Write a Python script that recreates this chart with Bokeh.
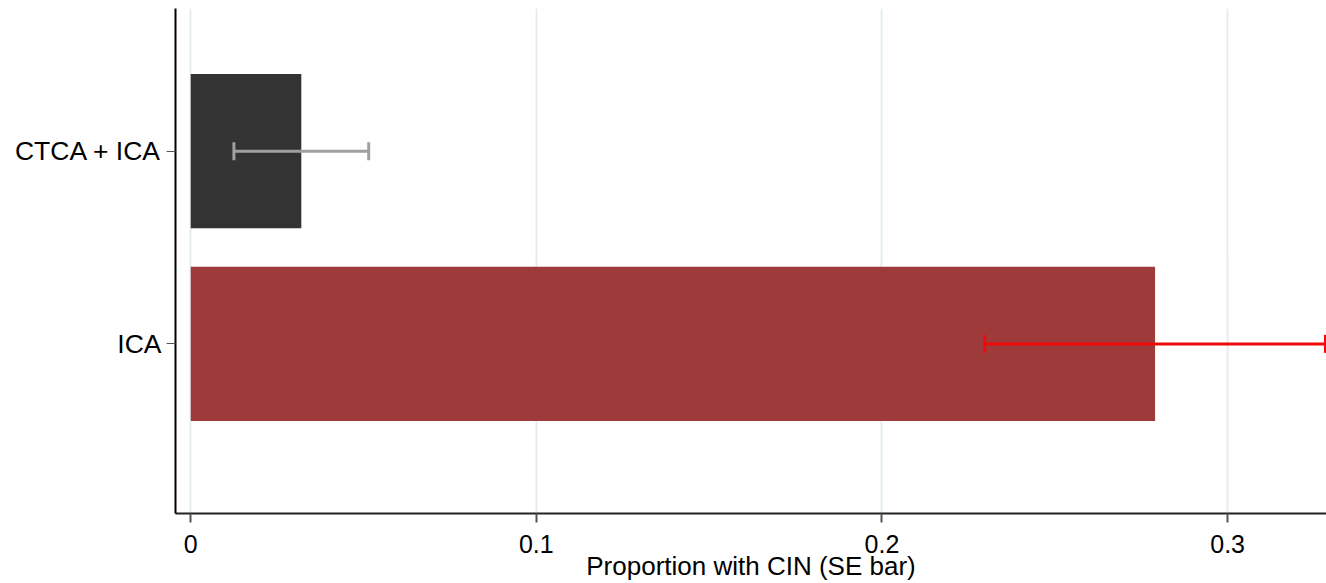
from bokeh.plotting import figure
from bokeh.models import Range1d, FixedTicker, Whisker, TeeHead, ColumnDataSource
from bokeh.embed import file_html
from bokeh.resources import INLINE

# Data (bottom to top)
categories = ["ICA", "CTCA + ICA"]
proportions = [0.279, 0.032]
std_errors = [0.0493, 0.0195]
bar_colors = ["#9E3A3A", "#333333"]
err_colors = ["#F00A0A", "#A0A0A0"]
x_ticks = [0, 0.1, 0.2, 0.3]

ypos = list(range(len(categories)))
lower = [m - s for m, s in zip(proportions, std_errors)]
upper = [m + s for m, s in zip(proportions, std_errors)]

FONT = "Liberation Sans"

p = figure(width=1326, height=583, output_backend="svg", toolbar_location=None,
           x_range=Range1d(-0.0044, max(upper) + 0.0003), y_range=Range1d(-0.88, 1.74),
           min_border_left=175, min_border_right=0, min_border_top=8, min_border_bottom=69)
p.outline_line_color = None
p.background_fill_color = "white"
p.border_fill_color = "white"

src = ColumnDataSource(dict(y=ypos, right=proportions, color=bar_colors))
p.hbar(y="y", left=0, right="right", height=0.8, fill_color="color", line_color=None, source=src)

for i in range(len(categories)):
    s = ColumnDataSource(dict(base=[ypos[i]], lower=[lower[i]], upper=[upper[i]]))
    w = Whisker(source=s, base="base", lower="lower", upper="upper", dimension="width",
                level="overlay", line_color=err_colors[i], line_width=3,
                lower_head=TeeHead(size=18, line_color=err_colors[i], line_width=3),
                upper_head=TeeHead(size=18, line_color=err_colors[i], line_width=3))
    p.add_layout(w)

# Grid
p.ygrid.grid_line_color = None
p.xgrid.grid_line_color = "#E4EEF0"
p.xgrid.grid_line_width = 2
p.xgrid.ticker = FixedTicker(ticks=x_ticks)

# X axis
p.xaxis.ticker = FixedTicker(ticks=x_ticks)
p.xaxis.major_label_overrides = {0: "0", 0.1: "0.1", 0.2: "0.2", 0.3: "0.3"}
p.xaxis.axis_label = "Proportion with CIN (SE bar)"
p.xaxis.axis_label_text_font = FONT
p.xaxis.axis_label_text_font_size = "26px"
p.xaxis.axis_label_text_font_style = "normal"
p.xaxis.axis_label_text_color = "black"
p.xaxis.axis_label_standoff = -5
p.xaxis.major_label_text_font = FONT
p.xaxis.major_label_text_font_size = "25px"
p.xaxis.major_label_text_color = "black"
p.xaxis.major_label_standoff = 12
p.xaxis.major_tick_out = 9
p.xaxis.major_tick_in = 0
p.xaxis.major_tick_line_color = "#555555"
p.xaxis.major_tick_line_width = 2
p.xaxis.minor_tick_line_color = None
p.xaxis.axis_line_color = "#222222"
p.xaxis.axis_line_width = 2

# Y axis
p.yaxis.ticker = FixedTicker(ticks=ypos)
p.yaxis.major_label_overrides = {y: c for y, c in zip(ypos, categories)}
p.yaxis.major_label_text_font = FONT
p.yaxis.major_label_text_font_size = "26.5px"
p.yaxis.major_label_text_color = "black"
p.yaxis.major_label_standoff = 5
p.yaxis.major_tick_out = 9
p.yaxis.major_tick_in = 0
p.yaxis.major_tick_line_color = "#555555"
p.yaxis.major_tick_line_width = 1
p.yaxis.minor_tick_line_color = None
p.yaxis.axis_line_color = "black"
p.yaxis.axis_line_width = 2

open("out.html", "w").write(file_html(p, INLINE))
